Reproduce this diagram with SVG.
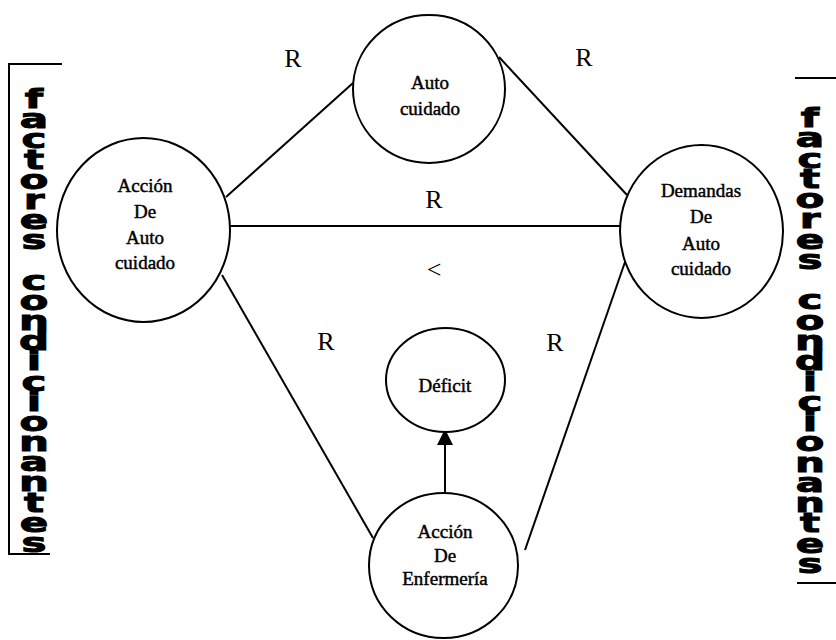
<svg xmlns="http://www.w3.org/2000/svg" width="836" height="640" viewBox="0 0 836 640">
<defs>
<style>
.node{fill:#fff;stroke:#000;stroke-width:2}
.lbl{font-family:"Liberation Serif","Times New Roman",serif;font-size:19px;fill:#000;text-anchor:middle;stroke:#000;stroke-width:0.45}
.r{font-family:"Liberation Serif","Times New Roman",serif;font-size:26px;fill:#000;text-anchor:middle}
.con{stroke:#000;stroke-width:2;fill:none}
.side{font-family:"DejaVu Sans","Liberation Sans",sans-serif;font-weight:bold;font-size:42px;fill:#000;stroke:#000;stroke-width:1.5;text-anchor:middle}
.br{stroke:#000;stroke-width:2;fill:none}
</style>
<marker id="arr" viewBox="0 0 16 16" refX="16" refY="8" markerWidth="16" markerHeight="16" markerUnits="userSpaceOnUse" orient="auto">
<path d="M0,0 L16,8 L0,16 Z" fill="#000"/>
</marker>
</defs>
<rect width="836" height="640" fill="#fff"/>

<g id="connectors">
<line class="con" x1="226" y1="197" x2="353" y2="83"/>
<line class="con" x1="499" y1="57" x2="627" y2="195"/>
<line class="con" x1="230" y1="226" x2="621" y2="226"/>
<line class="con" x1="222" y1="275" x2="373" y2="538"/>
<line class="con" x1="625" y1="262" x2="525" y2="550"/>
<line class="con" x1="445" y1="494" x2="445" y2="429" marker-end="url(#arr)"/>
</g>

<g id="node-autocuidado">
<ellipse class="node" cx="429" cy="89" rx="76" ry="74"/>
<text class="lbl" x="430" y="89">Auto</text>
<text class="lbl" x="430" y="115">cuidado</text>
</g>

<g id="node-accion-autocuidado">
<ellipse class="node" cx="143.5" cy="230" rx="86.5" ry="92"/>
<text class="lbl" x="145" y="192">Acción</text>
<text class="lbl" x="145" y="218">De</text>
<text class="lbl" x="145" y="244">Auto</text>
<text class="lbl" x="145" y="269">cuidado</text>
</g>

<g id="node-demandas">
<ellipse class="node" cx="701.5" cy="231.5" rx="81.5" ry="86.5"/>
<text class="lbl" x="701" y="197">Demandas</text>
<text class="lbl" x="701" y="223">De</text>
<text class="lbl" x="701" y="250">Auto</text>
<text class="lbl" x="701" y="275">cuidado</text>
</g>

<g id="node-deficit">
<ellipse class="node" cx="445.5" cy="380" rx="59.5" ry="52"/>
<text class="lbl" x="445" y="392">Déficit</text>
</g>

<g id="node-accion-enfermeria">
<ellipse class="node" cx="443.5" cy="565.5" rx="74.5" ry="72.5"/>
<text class="lbl" x="445" y="538">Acción</text>
<text class="lbl" x="445" y="562">De</text>
<text class="lbl" x="445" y="585">Enfermería</text>
</g>

<g id="relation-labels">
<text class="r" x="293" y="67">R</text>
<text class="r" x="584" y="66">R</text>
<text class="r" x="434" y="208">R</text>
<text class="r" x="434" y="278">&lt;</text>
<text class="r" x="326" y="350">R</text>
<text class="r" x="555" y="351">R</text>
</g>

<g id="side-left">
<path class="br" d="M62,64 L9,64 L9,554 L50,554"/>
<g transform="scale(1,0.65)">
<text class="side" x="34 34 34 34 34 34 34 34 34 34 34 34 34 34 34 34 34 34 34 34 34 34 34" y="166.2 197.2 228.3 259.3 290.4 321.4 352.5 383.5 414.6 445.6 476.7 507.7 538.8 569.8 600.9 631.9 663 694 725.1 756.1 787.2 818.2 849.2">factores condicionantes</text>
</g>
</g>

<g id="side-right">
<line class="br" x1="795" y1="78" x2="836" y2="78"/>
<line class="br" x1="797" y1="583" x2="836" y2="583"/>
<g transform="scale(1,0.65)">
<text class="side" x="810 810 810 810 810 810 810 810 810 810 810 810 810 810 810 810 810 810 810 810 810 810 810" y="195.4 226.6 257.8 289 320.1 351.3 382.5 413.7 444.9 476.1 507.2 538.4 569.6 600.8 632 663.2 694.3 725.5 756.7 787.9 819.1 850.3 881.5">factores condicionantes</text>
</g>
</g>
</svg>
